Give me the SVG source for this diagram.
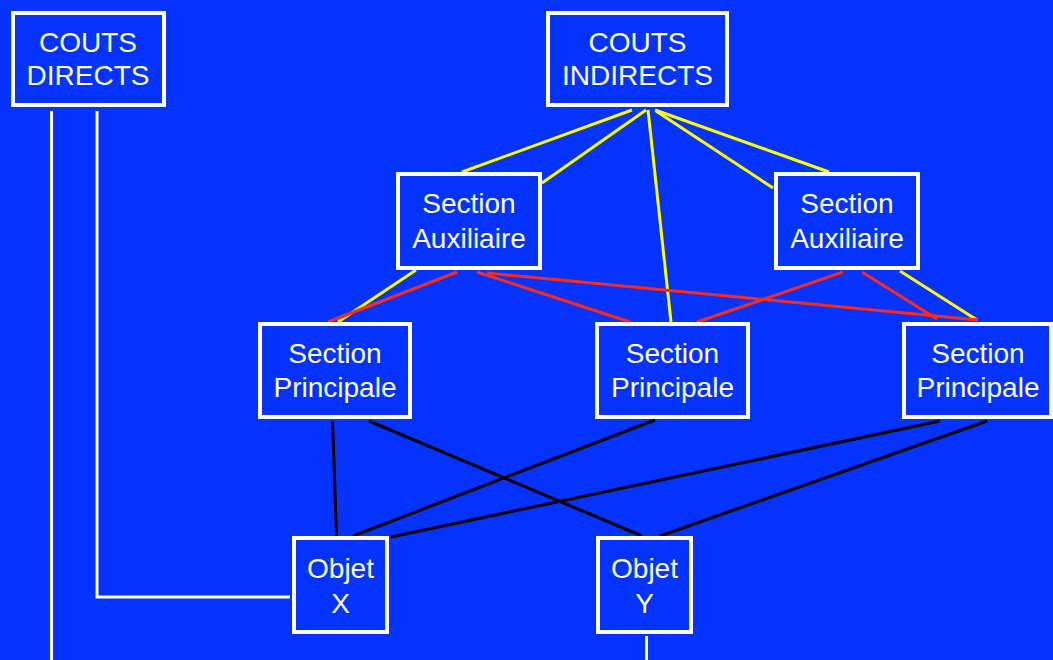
<svg xmlns="http://www.w3.org/2000/svg" width="1053" height="660" viewBox="0 0 1053 660">
  <style>
    .box { fill: #0433ff; stroke: #ffffff; stroke-width: 4; }
    .lbl { fill: #ffffff; font-family: "Liberation Sans", Arial, sans-serif; font-size: 28px; text-anchor: middle; }
    .yel { stroke: #ffff00; stroke-width: 3; fill: none; }
    .red { stroke: #ff2a1a; stroke-width: 3; fill: none; }
    .blk { stroke: #000000; stroke-width: 3; fill: none; }
    .wht { stroke: #ffffff; stroke-width: 3; fill: none; }
  </style>
  <rect width="1053" height="660" fill="#0433ff"/>

  <g id="connectors">
    <!-- direct costs -->
    <polyline class="wht" points="51.5,111 51.5,660"/>
    <polyline class="wht" points="97,111 97,597 290,597"/>
    <polyline class="wht" points="646.5,636 646.5,660"/>
    <!-- indirect costs to sections -->
    <line class="yel" x1="632" y1="110" x2="462" y2="172"/>
    <line class="yel" x1="646" y1="110" x2="542" y2="183"/>
    <line class="yel" x1="648" y1="110" x2="671" y2="322"/>
    <line class="yel" x1="655" y1="110" x2="829" y2="172"/>
    <line class="yel" x1="656" y1="111" x2="773" y2="188"/>
    <line class="yel" x1="416" y1="270" x2="338" y2="322"/>
    <line class="yel" x1="900" y1="271" x2="977" y2="320"/>
    <!-- auxiliary to principal sections -->
    <line class="red" x1="457" y1="272" x2="328" y2="322"/>
    <line class="red" x1="477" y1="272" x2="630" y2="322"/>
    <line class="red" x1="487" y1="273" x2="978" y2="320"/>
    <line class="red" x1="843" y1="272" x2="697" y2="322"/>
    <line class="red" x1="862" y1="272" x2="937" y2="319"/>
    <!-- principal sections to objects -->
    <line class="blk" x1="332.5" y1="421" x2="336.5" y2="536"/>
    <line class="blk" x1="369" y1="421" x2="642" y2="536"/>
    <line class="blk" x1="655" y1="420" x2="353" y2="536"/>
    <line class="blk" x1="940" y1="421" x2="391" y2="537"/>
    <line class="blk" x1="987" y1="421" x2="660" y2="536"/>
  </g>

  <g id="couts-directs">
    <rect class="box" x="13" y="13" width="151" height="92"/>
    <text class="lbl" x="88" y="52">COUTS</text>
    <text class="lbl" x="88" y="85">DIRECTS</text>
  </g>
  <g id="couts-indirects">
    <rect class="box" x="548" y="13" width="179" height="92"/>
    <text class="lbl" x="637.5" y="52">COUTS</text>
    <text class="lbl" x="637.5" y="85">INDIRECTS</text>
  </g>
  <g id="aux-1">
    <rect class="box" x="398" y="174" width="142" height="94"/>
    <text class="lbl" x="469" y="213">Section</text>
    <text class="lbl" x="469" y="247.5">Auxiliaire</text>
  </g>
  <g id="aux-2">
    <rect class="box" x="776" y="174" width="142" height="94"/>
    <text class="lbl" x="847" y="213">Section</text>
    <text class="lbl" x="847" y="247.5">Auxiliaire</text>
  </g>
  <g id="princ-1">
    <rect class="box" x="260" y="324" width="150" height="93"/>
    <text class="lbl" x="335" y="363">Section</text>
    <text class="lbl" x="335" y="397">Principale</text>
  </g>
  <g id="princ-2">
    <rect class="box" x="597" y="324" width="151" height="93"/>
    <text class="lbl" x="672.5" y="363">Section</text>
    <text class="lbl" x="672.5" y="397">Principale</text>
  </g>
  <g id="princ-3">
    <rect class="box" x="904" y="324" width="147" height="93"/>
    <text class="lbl" x="978" y="363">Section</text>
    <text class="lbl" x="978" y="397">Principale</text>
  </g>
  <g id="objet-x">
    <rect class="box" x="294" y="538" width="93" height="94"/>
    <text class="lbl" x="340.5" y="578">Objet</text>
    <text class="lbl" x="340.5" y="613">X</text>
  </g>
  <g id="objet-y">
    <rect class="box" x="598" y="538" width="93" height="94"/>
    <text class="lbl" x="644.5" y="578">Objet</text>
    <text class="lbl" x="644.5" y="613">Y</text>
  </g>
</svg>
